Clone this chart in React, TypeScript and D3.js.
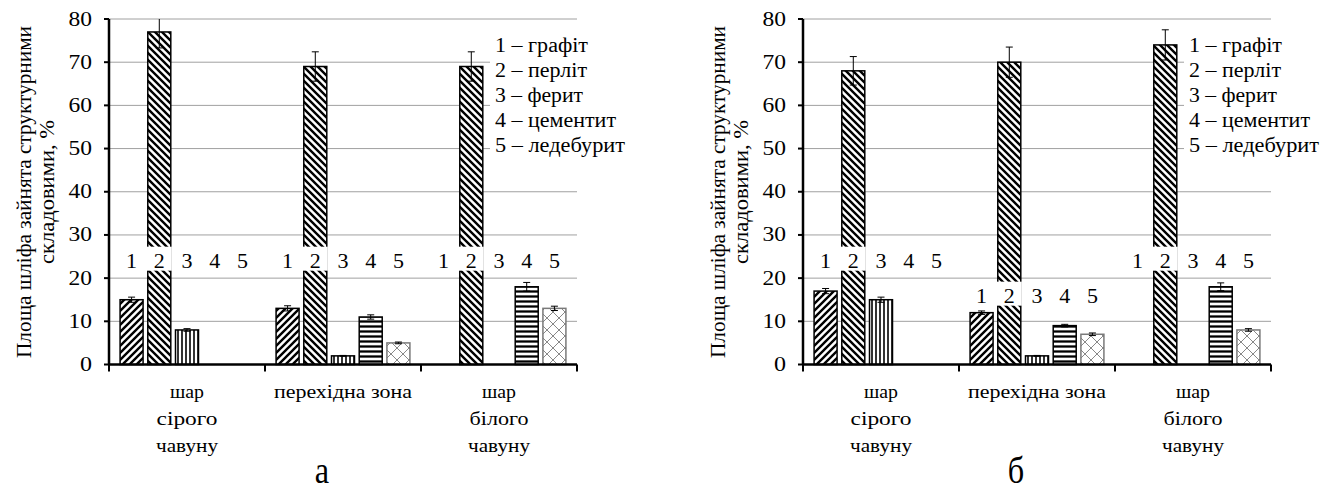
import React from 'react';
import * as d3 from 'd3';

const W = 1332;
const H = 493;

const categories = [['шар', 'сірого', 'чавуну'], ['перехідна зона'], ['шар', 'білого', 'чавуну']];
const phaseKeys = ['1', '2', '3', '4', '5'];
const phaseNames = ['графіт', 'перліт', 'ферит', 'цементит', 'ледебурит'];
const yTicks = [0, 10, 20, 30, 40, 50, 60, 70, 80];
const yTitle = ['Площа шліфа зайнята структурними', 'складовими, %'];

// [category][phase]
const valuesA = [[15, 77, 8, 0, 0], [13, 69, 2, 11, 5], [0, 69, 0, 18, 13]];
const errorsA = [[0.6, 3.7, 0.3, 0, 0], [0.6, 3.4, 0.1, 0.5, 0.2], [0, 3.4, 0, 1, 0.5]];
const valuesB = [[17, 68, 15, 0, 0], [12, 70, 2, 9, 7], [0, 74, 0, 18, 8]];
const errorsB = [[0.6, 3.3, 0.6, 0, 0], [0.4, 3.5, 0.1, 0.3, 0.3], [0, 3.5, 0, 0.9, 0.3]];
// height (in % units) where the 1..5 markers sit in each category
const labelLevelA = [24.5, 24.5, 24.5];
const labelLevelB = [24.5, 16.4, 24.5];

const FONT =
  "'Liberation Serif', 'Times New Roman', Tinos, 'Nimbus Roman', 'Noto Serif', 'DejaVu Serif', FreeSerif, Times, serif";
const txt = { fontFamily: FONT };
// the source figure has slightly widened lettering, so widths are pinned
const legendWidths = [93, 92, 88, 121, 130];
const catWidths: Record<string, number> = {
  'шар': 34,
  'сірого': 61,
  'чавуну': 62,
  'перехідна зона': 138,
  'білого': 59,
};
const fills = ['url(#p-graphite)', 'url(#p-pearlite)', 'url(#p-ferrite)', 'url(#p-cementite)', 'url(#p-ledeburite)'];
const borders = ['#000', '#000', '#000', '#000', '#7a7a7a'];

const Patterns = () => (
  <defs>
    <pattern id="p-graphite" patternUnits="userSpaceOnUse" width={7} height={7}>
      <rect width={7} height={7} fill="#fff" />
      <path d="M-2,2 L2,-2 M0,7 L7,0 M5,9 L9,5" stroke="#000" strokeWidth={2.4} />
    </pattern>
    <pattern id="p-pearlite" patternUnits="userSpaceOnUse" width={7} height={7}>
      <rect width={7} height={7} fill="#fff" />
      <path d="M-2,5 L2,9 M0,0 L7,7 M5,-2 L9,2" stroke="#000" strokeWidth={2.4} />
    </pattern>
    <pattern id="p-ferrite" patternUnits="userSpaceOnUse" width={4} height={4}>
      <rect width={4} height={4} fill="#fff" />
      <path d="M1,0 L1,4" stroke="#000" strokeWidth={1.6} />
    </pattern>
    <pattern id="p-cementite" patternUnits="userSpaceOnUse" width={5} height={5}>
      <rect width={5} height={5} fill="#fff" />
      <path d="M0,1.5 L5,1.5" stroke="#000" strokeWidth={2.3} />
    </pattern>
    <pattern id="p-ledeburite" patternUnits="userSpaceOnUse" width={12} height={12}>
      <rect width={12} height={12} fill="#fff" />
      <path d="M0,0 L12,12 M12,0 L0,12" stroke="#888" strokeWidth={1} />
    </pattern>
  </defs>
);

type PanelProps = {
  values: number[][];
  errors: number[][];
  labelLevels: number[];
  title: string;
  offsetX: number;
};

const Panel = ({ values, errors, labelLevels, title, offsetX }: PanelProps) => {
  const axisX = 109 + offsetX;
  const rightX = 577 + offsetX;
  const y = d3.scaleLinear().domain([0, 80]).range([364.5, 19]);
  const x0 = d3.scaleBand<string>().domain(['0', '1', '2']).range([axisX, rightX]).padding(0);
  const x1 = d3
    .scaleBand<string>()
    .domain(phaseKeys)
    .range([0, x0.bandwidth()])
    .paddingInner(0.17)
    .paddingOuter(0.4);
  const bw = x1.bandwidth();
  const boundaries = [0, 1, 2].map((i) => x0(String(i)) as number).concat([rightX]);

  return (
    <g style={txt}>
      {/* y axis title */}
      {yTitle.map((t, i) => (
        <text
          key={t}
          transform={`translate(${offsetX + 24 + i * 23},192) rotate(-90)`}
          textAnchor="middle"
          dominantBaseline="central"
          fontSize={21}
          textLength={i === 0 ? 332 : 144}
          lengthAdjust="spacingAndGlyphs"
          style={txt}
        >
          {t}
        </text>
      ))}

      {/* gridlines */}
      {yTicks.filter((t) => t > 0).map((t) => (
        <line key={t} x1={axisX} x2={rightX} y1={y(t)} y2={y(t)} stroke="#a0a0a0" strokeWidth={1} />
      ))}

      {/* bars */}
      {values.map((row, ci) => (
        <g key={ci} transform={`translate(${x0(String(ci))},0)`}>
          {row.map((v, pi) =>
            v > 0 ? (
              <rect
                key={pi}
                x={x1(phaseKeys[pi])}
                y={y(v)}
                width={bw}
                height={y(0) - y(v)}
                fill={fills[pi]}
                stroke={borders[pi]}
                strokeWidth={1.5}
              />
            ) : null
          )}
          {row.map((v, pi) => {
            const e = errors[ci][pi];
            if (v <= 0 || e <= 0) return null;
            const cx = (x1(phaseKeys[pi]) as number) + bw / 2;
            const top = Math.min(v + e, 80);
            return (
              <g key={'e' + pi} stroke="#000" strokeWidth={1}>
                <line x1={cx} x2={cx} y1={y(top)} y2={y(v - e)} />
                {v + e <= 80 && <line x1={cx - 3.5} x2={cx + 3.5} y1={y(v + e)} y2={y(v + e)} />}
                <line x1={cx - 3.5} x2={cx + 3.5} y1={y(v - e)} y2={y(v - e)} />
              </g>
            );
          })}
          {phaseKeys.map((k, pi) => {
            const cx = (x1(k) as number) + bw / 2;
            const cy = y(labelLevels[ci]);
            return (
              <g key={'l' + pi}>
                {row[pi] > labelLevels[ci] - 3 && (
                  <rect x={cx - bw / 2 - 1} y={cy - 12} width={bw + 2} height={24} fill="#fff" />
                )}
                <text
                  x={cx}
                  y={cy + 9}
                  textAnchor="middle"
                  fontSize={20}
                  textLength={11}
                  lengthAdjust="spacingAndGlyphs"
                  style={txt}
                >
                  {k}
                </text>
              </g>
            );
          })}
        </g>
      ))}

      {/* axes */}
      <line x1={axisX} x2={axisX} y1={y(80)} y2={y(0)} stroke="#000" strokeWidth={2.5} />
      {yTicks.map((t) => (
        <g key={t}>
          <line x1={axisX - 5} x2={axisX} y1={y(t)} y2={y(t)} stroke="#000" strokeWidth={2} />
          <text
            x={axisX - 17}
            y={y(t) + 6.5}
            textAnchor="end"
            fontSize={20}
            textLength={String(t).length === 1 ? 12 : 23.5}
            lengthAdjust="spacingAndGlyphs"
            style={txt}
          >
            {t}
          </text>
        </g>
      ))}
      <line x1={axisX} x2={rightX} y1={y(0)} y2={y(0)} stroke="#000" strokeWidth={2.5} />
      {boundaries.map((bx, i) => (
        <line key={i} x1={bx} x2={bx} y1={y(0)} y2={y(0) + 7} stroke="#000" strokeWidth={2} />
      ))}

      {/* category labels */}
      {categories.map((lines, ci) =>
        lines.map((ln, li) => (
          <text
            key={ci + '-' + li}
            x={(x0(String(ci)) as number) + x0.bandwidth() / 2}
            y={398 + li * 27}
            textAnchor="middle"
            fontSize={19}
            textLength={catWidths[ln]}
            lengthAdjust="spacingAndGlyphs"
            style={txt}
          >
            {ln}
          </text>
        ))
      )}

      {/* legend */}
      <rect x={axisX + 381} y={33} width={140} height={125} fill="#fff" />
      {phaseNames.map((n, i) => (
        <text
          key={n}
          x={axisX + 386}
          y={52 + i * 25}
          fontSize={20}
          textLength={legendWidths[i]}
          lengthAdjust="spacingAndGlyphs"
          style={txt}
        >
          {phaseKeys[i]} – {n}
        </text>
      ))}

      <text
        transform={`translate(${offsetX + 322},483) scale(0.85,1)`}
        textAnchor="middle"
        fontSize={38}
        style={txt}
      >
        {title}
      </text>
    </g>
  );
};

const App = () => (
  <svg
    width={W}
    height={H}
    style={{ position: 'absolute', left: 0, top: 0, background: '#fff' }}
  >
    <Patterns />
    <rect width={W} height={H} fill="#fff" />
    <Panel values={valuesA} errors={errorsA} labelLevels={labelLevelA} title="а" offsetX={0} />
    <Panel values={valuesB} errors={errorsB} labelLevels={labelLevelB} title="б" offsetX={694} />
  </svg>
);

export default App;
